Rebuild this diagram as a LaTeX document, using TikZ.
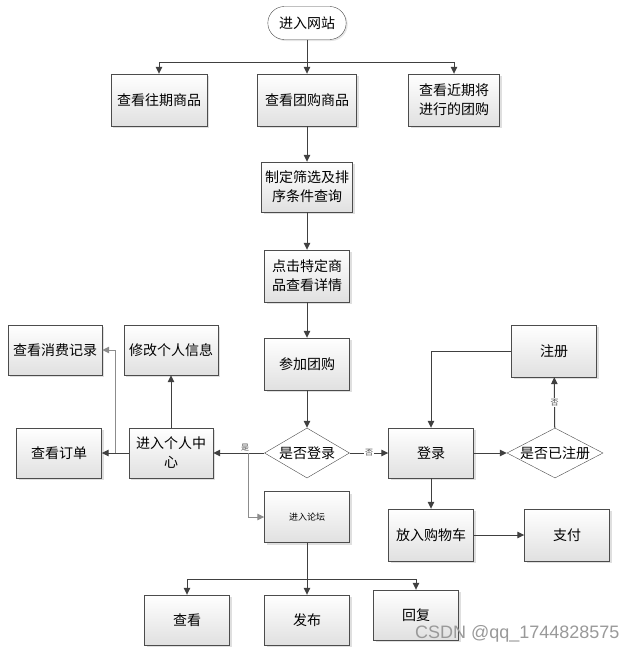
\documentclass[tikz,border=0pt]{standalone}
\usepackage{fontspec}
\setmainfont{Noto Sans CJK SC}
\newfontfamily\wmfont{Liberation Sans}
\usetikzlibrary{shapes.geometric,shapes.misc,shadows,arrows.meta}

\begin{document}
\begin{tikzpicture}[
    x=1pt, y=-1pt,
    box/.style={draw=black!70, top color=white, bottom color=black!12, drop shadow={shadow xshift=2pt, shadow yshift=-2pt, fill=black!25}, minimum width=85pt, minimum height=52pt, align=center, inner sep=2pt, font=\fontsize{14}{19}\selectfont},
    cond/.style={diamond, draw=black!70, fill=white, shape aspect=2, minimum width=85pt, minimum height=50pt, inner sep=0pt, font=\fontsize{14}{19}\selectfont},
    term/.style={rounded rectangle, draw=black!70, fill=white, drop shadow={shadow xshift=1.5pt, shadow yshift=-1.5pt, fill=black!20}, minimum width=85pt, minimum height=33pt, font=\fontsize{14}{19}\selectfont},
    arr/.style={draw=black!75, line width=1pt, -{Triangle[length=7pt,width=6.5pt]}},
    garr/.style={arr, draw=black!45},
    tag/.style={font=\fontsize{8}{9}\selectfont, text=black!70, inner sep=1pt},
  ]
    \useasboundingbox (0,0) rectangle (638,653);

    \node[term] (start) at (307,23) {进入网站};
    \node[box, minimum width=96pt] (past) at (159,100) {查看往期商品};
    \node[box, minimum width=99pt] (group) at (307,100) {查看团购商品};
    \node[box, minimum width=91pt] (soon) at (454,100) {查看近期将\\进行的团购};
    \node[box, minimum width=91pt, minimum height=50pt] (filter) at (307,187) {制定筛选及排\\序条件查询};
    \node[box] (detail) at (307,276) {点击特定商\\品查看详情};
    \node[box] (join) at (307,364) {参加团购};

    \node[cond] (islogin) at (307,453) {是否登录};
    \node[box, minimum height=50pt] (login) at (431,453) {登录};
    \node[cond] (isreg) at (555,453) {是否已注册};
    \node[box] (reg) at (554,351) {注册};
    \node[box] (cart) at (431,535) {放入购物车};
    \node[box] (pay) at (567,535) {支付};

    \node[box, minimum height=51pt, font=\fontsize{9}{11}\selectfont] (forum) at (307,517) {进入论坛};
    \node[box, minimum height=50pt] (fview) at (187,620) {查看};
    \node[box, minimum height=50pt] (fpost) at (307,620) {发布};
    \node[box, minimum height=50pt] (freply) at (416,615) {回复};

    \node[box, minimum width=84pt, minimum height=50pt] (center) at (171,453) {进入个人中\\心};
    \node[box, minimum width=94pt, minimum height=50pt] (editinfo) at (171,350) {修改个人信息};
    \node[box, minimum width=94pt, minimum height=50pt] (records) at (55,350) {查看消费记录};
    \node[box, minimum height=50pt] (orders) at (59,453) {查看订单};

    % top branch
    \coordinate (split1) at (307,62);
    \draw[arr] (start.south) -- (group.north);
    \draw[arr] (split1) -| (past.north);
    \draw[arr] (split1) -| (soon.north);
    \draw[arr] (group) -- (filter);
    \draw[arr] (filter) -- (detail);
    \draw[arr] (detail) -- (join);
    \draw[arr] (join) -- (islogin);

    % login
    \draw[arr] (islogin.east) -- node[tag, fill=white] {否} (login.west);
    \draw[arr] (login) -- (isreg);
    \draw[arr] (isreg) -- node[tag, fill=white] {否} (reg);
    \draw[arr] (reg.west) -| (login.north);
    \draw[arr] (login) -- (cart);
    \draw[arr] (cart) -- (pay);

    % yes branch
    \coordinate (yes) at (248,453);
    \draw[arr] (islogin.west) -- (center.east);
    \node[tag] (yeslbl) at (245,448) {是};
    \draw[garr] (yes) |- (forum.west);
    \coordinate (split2) at (307,579);
    \draw[arr] (forum) -- (fpost);
    \draw[arr] (split2) -| (fview.north);
    \draw[arr] (split2) -| (freply.north);

    % personal center
    \draw[arr] (center) -- (editinfo);
    \draw[arr] (center) -- (orders);
    \coordinate (cbr) at (115,453);
    \draw[garr] (cbr) |- (records.east);

    \node[font=\wmfont\fontsize{18}{18}\selectfont, text=black!40, anchor=east] (wm) at (623,634) {CSDN @qq\_1744828575};
  \end{tikzpicture}
\end{document}
